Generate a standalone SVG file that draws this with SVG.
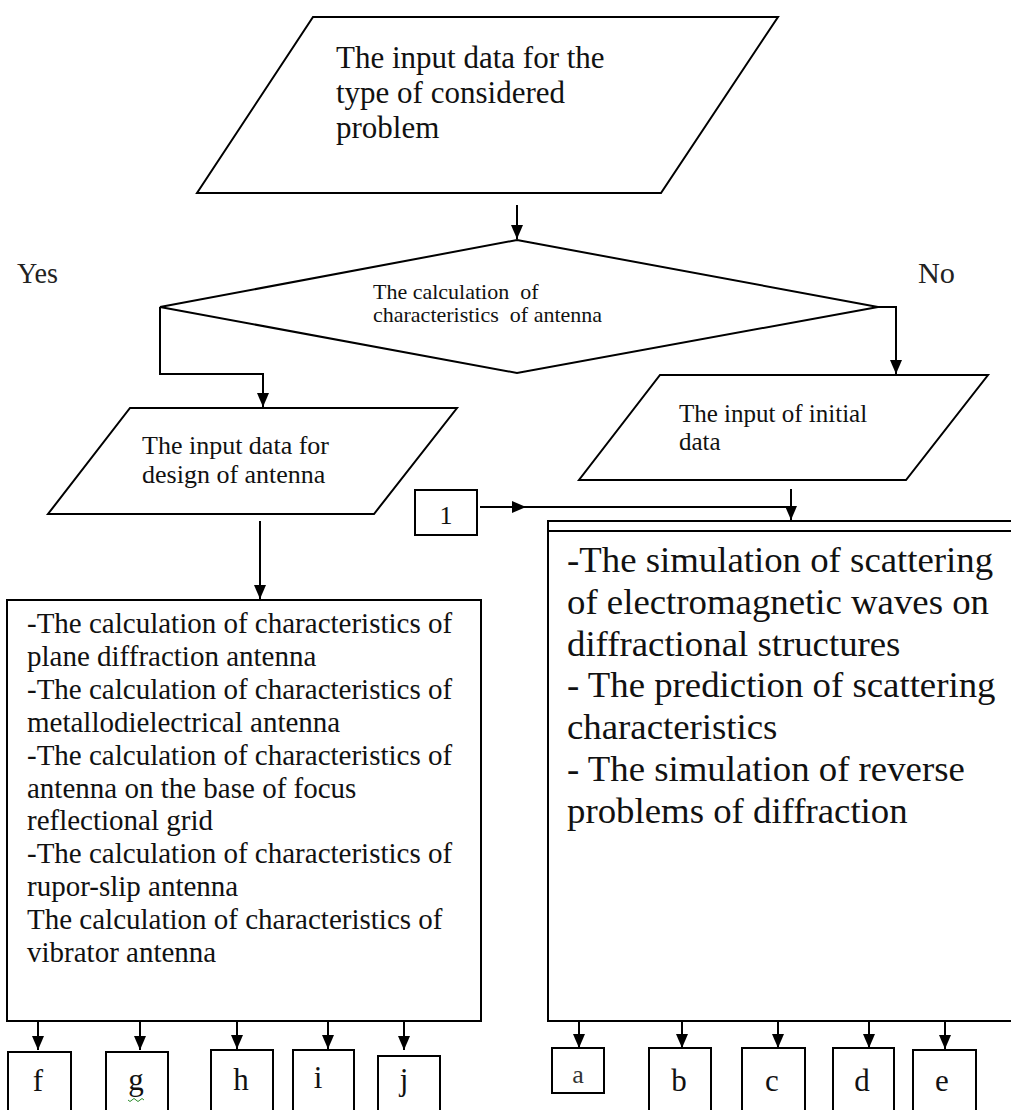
<svg xmlns="http://www.w3.org/2000/svg" width="1011" height="1110" viewBox="0 0 1011 1110">
<style>
.shape{fill:#fff;stroke:#000;stroke-width:2}
.conn{fill:none;stroke:#000;stroke-width:2}
text{font-family:"Liberation Serif","Times New Roman",serif;fill:#111}
.t31{font-size:31px}
.t26{font-size:26px}
.t25{font-size:25px}
.t22{font-size:22px}
.t29{font-size:29px}
.t37{font-size:36.8px}
.yn{font-size:29px;fill:#222}
.lbl{font-size:31px;text-anchor:middle}
</style>
<defs>
<marker id="ah" viewBox="0 0 14 12" refX="14" refY="6" markerWidth="14" markerHeight="12" markerUnits="userSpaceOnUse" orient="auto">
<path d="M0,0 L14,6 L0,12 z" fill="#000"/>
</marker>
</defs>
<rect width="1011" height="1110" fill="#fff"/>

<g id="connectors">
<path class="conn" d="M517,205 V239" marker-end="url(#ah)"/>
<path class="conn" d="M160,307 V374 H263 V407" marker-end="url(#ah)"/>
<path class="conn" d="M878,307 H896 V374" marker-end="url(#ah)"/>
<path class="conn" d="M260,521 V599" marker-end="url(#ah)"/>
<path class="conn" d="M480,507 H526" marker-end="url(#ah)"/>
<path class="conn" d="M520,507 H791"/>
<path class="conn" d="M791,489 V520" marker-end="url(#ah)"/>
<path class="conn" d="M38,1021 V1050" marker-end="url(#ah)"/>
<path class="conn" d="M140,1021 V1050" marker-end="url(#ah)"/>
<path class="conn" d="M237,1021 V1049" marker-end="url(#ah)"/>
<path class="conn" d="M328,1021 V1049" marker-end="url(#ah)"/>
<path class="conn" d="M404,1021 V1050" marker-end="url(#ah)"/>
<path class="conn" d="M579,1021 V1048" marker-end="url(#ah)"/>
<path class="conn" d="M682,1021 V1048" marker-end="url(#ah)"/>
<path class="conn" d="M778,1021 V1048" marker-end="url(#ah)"/>
<path class="conn" d="M869,1021 V1048" marker-end="url(#ah)"/>
<path class="conn" d="M945,1021 V1049" marker-end="url(#ah)"/>
</g>

<g id="input-type">
<polygon class="shape" points="313,17 778,17 661,193 197,193"/>
<text class="t31" x="336" y="68">The input data for the</text>
<text class="t31" x="336" y="103">type of considered</text>
<text class="t31" x="336" y="138">problem</text>
</g>

<g id="decision">
<polygon class="shape" points="517,240 878,307 517,373 160,307"/>
<text class="t22" x="373" y="299" xml:space="preserve">The calculation  of</text>
<text class="t22" x="373" y="322" xml:space="preserve">characteristics  of antenna</text>
</g>

<g id="label-yes"><text class="yn" x="17" y="283" textLength="41" lengthAdjust="spacingAndGlyphs">Yes</text></g>
<g id="label-no"><text class="yn" x="918" y="283" textLength="37" lengthAdjust="spacingAndGlyphs">No</text></g>

<g id="input-design">
<polygon class="shape" points="130,408 457,408 374,514 48,514"/>
<text class="t26" x="142" y="454">The input data for</text>
<text class="t26" x="142" y="483">design of antenna</text>
</g>

<g id="input-initial">
<polygon class="shape" points="660,375 988,375 906,480 579,480"/>
<text class="t25" x="679" y="422">The input of initial</text>
<text class="t25" x="679" y="450">data</text>
</g>

<g id="connector-1">
<rect class="shape" x="415" y="490" width="62" height="45"/>
<text class="t26" x="446" y="524" text-anchor="middle">1</text>
</g>

<g id="antenna-box">
<rect class="shape" x="7" y="600" width="474" height="421"/>
<text class="t29" x="27" y="633">-The calculation of characteristics of</text>
<text class="t29" x="27" y="666">plane diffraction antenna</text>
<text class="t29" x="27" y="699">-The calculation of characteristics of</text>
<text class="t29" x="27" y="732">metallodielectrical antenna</text>
<text class="t29" x="27" y="765">-The calculation of characteristics of</text>
<text class="t29" x="27" y="798">antenna on the base of focus</text>
<text class="t29" x="27" y="830">reflectional grid</text>
<text class="t29" x="27" y="863">-The calculation of characteristics of</text>
<text class="t29" x="27" y="896">rupor-slip antenna</text>
<text class="t29" x="27" y="929">The calculation of characteristics of</text>
<text class="t29" x="27" y="962">vibrator antenna</text>
</g>

<g id="simulation-box">
<rect class="shape" x="548" y="521" width="470" height="500"/>
<line class="conn" x1="548" y1="531" x2="1011" y2="531"/>
<text class="t37" x="567" y="572">-The simulation of scattering</text>
<text class="t37" x="567" y="614">of electromagnetic waves on</text>
<text class="t37" x="567" y="656">diffractional structures</text>
<text class="t37" x="567" y="697">- The prediction of scattering</text>
<text class="t37" x="567" y="739">characteristics</text>
<text class="t37" x="567" y="781">- The simulation of reverse</text>
<text class="t37" x="567" y="823">problems of diffraction</text>
</g>

<g id="box-f"><rect class="shape" x="8" y="1052" width="63" height="70"/><text class="lbl" x="38" y="1091">f</text></g>
<g id="box-g"><rect class="shape" x="106" y="1052" width="62" height="70"/><text class="lbl" x="136" y="1090">g</text><path d="M128,1100 q2,3 4,0 q2,-3 4,0 q2,3 4,0 q2,-3 4,0" fill="none" stroke="#2a8a2a" stroke-width="1"/></g>
<g id="box-h"><rect class="shape" x="211" y="1050" width="62" height="70"/><text class="lbl" x="241" y="1090">h</text></g>
<g id="box-i"><rect class="shape" x="293" y="1050" width="61" height="70"/><text class="lbl" x="318" y="1088">i</text></g>
<g id="box-j"><rect class="shape" x="378" y="1056" width="62" height="70"/><text class="lbl" x="404" y="1090">j</text></g>

<g id="box-a"><rect class="shape" x="552" y="1048" width="52" height="45"/><text x="578" y="1083" style="font-size:26px;text-anchor:middle;fill:#333">a</text></g>
<g id="box-b"><rect class="shape" x="649" y="1048" width="62" height="70"/><text class="lbl" x="679" y="1091">b</text></g>
<g id="box-c"><rect class="shape" x="742" y="1048" width="63" height="70"/><text class="lbl" x="772" y="1091">c</text></g>
<g id="box-d"><rect class="shape" x="833" y="1048" width="61" height="70"/><text class="lbl" x="862" y="1091">d</text></g>
<g id="box-e"><rect class="shape" x="913" y="1050" width="63" height="70"/><text class="lbl" x="942" y="1091">e</text></g>
</svg>
